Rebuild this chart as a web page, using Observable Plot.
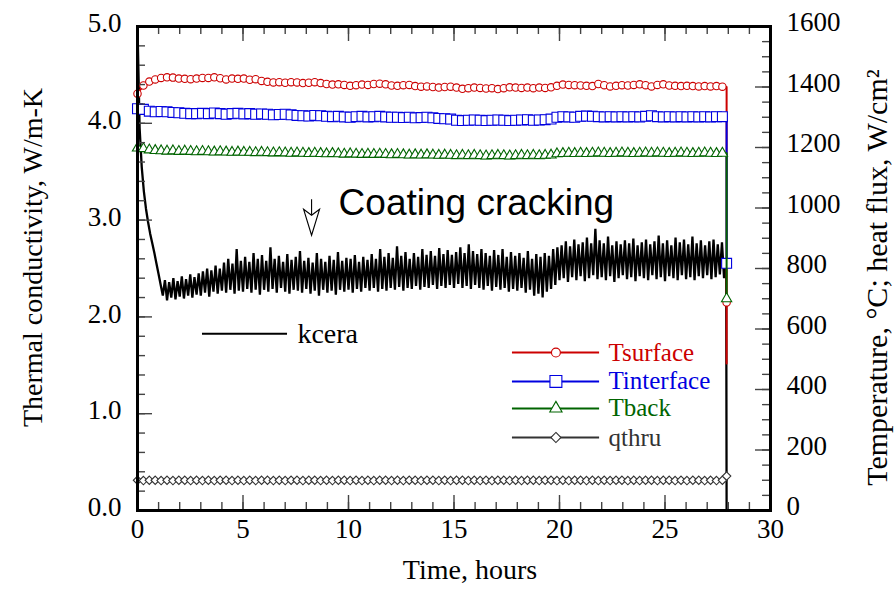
<!DOCTYPE html>
<html><head><meta charset="utf-8">
<script src="https://cdn.jsdelivr.net/npm/d3@7"></script>
<script src="https://cdn.jsdelivr.net/npm/@observablehq/plot@0.6"></script>
<style>html,body{margin:0;padding:0;background:#fff}#chart svg{display:block}</style>
</head><body><div id="chart"></div>
<script>
// ---------- DATA ----------
// kcera, W/m-K, one reading every 0.1 h from t = 0 to 27.9 h
const kceraStep = 0.1;
const kcera = [
 5.0,3.95,3.55,3.3,3.12,2.98,2.86,2.76,2.66,2.55,2.44,2.33,2.22,
 2.38,2.17,2.36,2.2,2.4,2.18,2.37,
 2.21,2.42,2.19,2.39,2.22,2.44,2.2,2.41,2.23,2.45,
 2.22,2.47,2.25,2.5,2.21,2.48,2.26,2.53,2.24,2.5,
 2.27,2.56,2.25,2.6,2.28,2.55,2.24,2.7,2.27,2.58,
 2.26,2.62,2.29,2.57,2.25,2.66,2.28,2.6,2.23,2.64,
 2.28,2.58,2.26,2.72,2.29,2.6,2.25,2.63,2.3,2.57,
 2.26,2.65,2.24,2.59,2.28,2.62,2.27,2.68,2.25,2.58,
 2.29,2.61,2.24,2.56,2.27,2.66,2.22,2.6,2.28,2.57,
 2.25,2.63,2.27,2.59,2.23,2.67,2.28,2.58,2.26,2.61,
 2.28,2.6,2.25,2.64,2.29,2.57,2.26,2.62,2.3,2.59,
 2.27,2.65,2.3,2.6,2.26,2.7,2.29,2.62,2.27,2.66,
 2.3,2.61,2.28,2.73,2.31,2.63,2.27,2.67,2.3,2.6,
 2.29,2.66,2.32,2.62,2.28,2.7,2.31,2.64,2.3,2.68,
 2.33,2.63,2.29,2.71,2.32,2.65,2.3,2.69,2.33,2.64,
 2.3,2.67,2.34,2.72,2.3,2.66,2.32,2.75,2.29,2.68,
 2.33,2.65,2.3,2.7,2.28,2.66,2.32,2.63,2.27,2.69,
 2.31,2.64,2.28,2.7,2.3,2.62,2.26,2.67,2.29,2.63,
 2.27,2.66,2.3,2.61,2.25,2.68,2.28,2.6,2.22,2.65,
 2.24,2.62,2.2,2.66,2.26,2.63,2.29,2.7,2.33,2.72,
 2.38,2.74,2.4,2.78,2.36,2.73,2.41,2.8,2.38,2.75,
 2.42,2.77,2.37,2.82,2.4,2.76,2.43,2.91,2.39,2.79,
 2.41,2.76,2.38,2.83,2.42,2.74,2.36,2.78,2.4,2.75,
 2.43,2.79,2.39,2.76,2.41,2.81,2.37,2.74,2.42,2.77,
 2.4,2.8,2.38,2.75,2.43,2.78,2.39,2.84,2.41,2.76,
 2.37,2.79,2.42,2.74,2.4,2.82,2.38,2.77,2.43,2.8,
 2.39,2.75,2.41,2.83,2.38,2.76,2.42,2.79,2.4,2.74,
 2.43,2.78,2.39,2.8,2.41,2.75,2.44,2.77,2.4,2.6
];
const kceraEnd = [0];

// temperatures (°C) and heat flux (W/cm²) at the plotted markers, every 0.28 h
const markerStep = 0.28;
const tsurface = [
 1378,1405,1418,1425,1430,1432,1431,1428,1427,1426,
 1428,1430,1430,1432,1429,1425,1428,1427,1428,1424,
 1426,1420,1417,1415,1416,1414,1416,1415,1413,1414,
 1416,1413,1410,1408,1409,1407,1404,1406,1408,1407,
 1410,1411,1409,1405,1404,1406,1407,1403,1401,1402,
 1400,1398,1400,1401,1398,1394,1396,1398,1397,1395,
 1396,1393,1396,1399,1398,1397,1398,1396,1398,1397,
 1399,1404,1408,1407,1406,1405,1404,1403,1410,1406,
 1402,1404,1406,1405,1407,1409,1406,1402,1407,1409,
 1405,1404,1403,1404,1403,1402,1403,1402,1403,1401
];
const tinterface = [
 1328,1326,1320,1318,1319,1318,1316,1315,1313,1312,
 1312,1313,1312,1314,1312,1310,1312,1313,1311,1312,
 1310,1311,1310,1308,1309,1310,1308,1306,1305,1304,
 1306,1305,1303,1302,1303,1301,1300,1302,1303,1301,
 1302,1303,1301,1300,1300,1299,1300,1298,1299,1300,
 1298,1296,1295,1294,1290,1289,1290,1291,1290,1289,
 1290,1291,1290,1289,1290,1291,1292,1290,1291,1292,
 1294,1300,1302,1301,1300,1303,1304,1303,1302,1301,
 1302,1301,1302,1301,1302,1301,1303,1305,1302,1301,
 1302,1301,1302,1301,1302,1301,1302,1301,1302,1302
];
const tback = [
 1198,1196,1192,1190,1189,1188,1189,1187,1188,1187,
 1186,1187,1186,1185,1186,1185,1184,1185,1184,1184,
 1183,1184,1183,1182,1183,1182,1181,1182,1181,1180,
 1181,1180,1179,1180,1179,1178,1179,1178,1177,1178,
 1177,1178,1177,1176,1177,1176,1175,1176,1175,1176,
 1175,1174,1175,1174,1173,1174,1173,1174,1173,1172,
 1173,1174,1173,1172,1173,1174,1173,1174,1173,1174,
 1175,1179,1180,1181,1180,1181,1180,1181,1182,1181,
 1180,1181,1182,1181,1180,1181,1182,1181,1182,1181,
 1180,1181,1182,1181,1180,1181,1182,1181,1180,1181
];
const qthru = [
 100,99,100,100,99,100,99,100,100,99,
 100,99,100,99,100,100,99,100,99,100,
 99,100,100,99,100,99,100,100,99,100,
 100,99,100,99,100,100,99,100,99,100,
 99,100,100,99,100,99,100,100,99,100,
 100,99,100,99,100,100,99,100,99,100,
 99,100,100,99,100,99,100,100,99,100,
 100,99,100,99,100,100,99,100,99,100,
 99,100,100,99,100,99,100,100,99,100,
 100,99,100,99,100,100,99,100,99,100
];
// end of test (t = 27.92 h): each trace drops; the second value carries the last marker
const tEnd = 27.92;
const tsurfaceEnd = [1400, 688, 486];
const tinterfaceEnd = [1302, 817];
const tbackEnd = [1181, 700];
const qthruEnd = [100, 114];
const endMarkerIndex = 1;

// axes
const xTicks = [0, 5, 10, 15, 20, 25, 30];
const leftTicks = [0, 1, 2, 3, 4, 5];
const leftTickLabels = ["0.0", "1.0", "2.0", "3.0", "4.0", "5.0"];
const rightTicks = [0, 200, 400, 600, 800, 1000, 1200, 1400, 1600];
const xLabel = "Time, hours";
const leftLabel = "Thermal conductivity, W/m-K";
const rightLabel = "Temperature, \u00B0C; heat flux, W/cm\u00B2";
const legendNames = ["Tsurface", "Tinterface", "Tback", "qthru"];
const kceraLegend = "kcera";
const note = "Coating cracking";
const noteArrowTime = 8.25;      // h
const noteArrowK = [3.21, 3.05]; // stem top, head notch (W/m-K)
const noteTextPos = [9.53, 3.18];

// ---------- LAYOUT ----------
const W = 894, H = 593, mL = 137, mR = 124, mT = 26, mB = 83;
const plotW = W - mL - mR, plotH = H - mT - mB;
const K = 5 / 1600; // right-axis (°C, W/cm²) to left-axis units
const serif = "'Liberation Serif','Times New Roman',Times,serif";
const sans = "'Liberation Sans',Arial,Helvetica,sans-serif";

const styles = {
  Tsurface:   {color: "#cc0000", symbol: "circle",   r: 3.7},
  Tinterface: {color: "#0000e0", symbol: "square",   r: 5.6},
  Tback:      {color: "#006400", symbol: "triangle", r: 3.8},
  qthru:      {color: "#333333", symbol: "diamond2", r: 3.8}
};
const seriesVals = {Tsurface: tsurface, Tinterface: tinterface, Tback: tback, qthru: qthru};
const seriesEnd = {Tsurface: tsurfaceEnd, Tinterface: tinterfaceEnd, Tback: tbackEnd, qthru: qthruEnd};

function lineRows(name) {
  const rows = seriesVals[name].map((v, i) => ({t: i * markerStep, v}));
  seriesEnd[name].forEach(v => rows.push({t: tEnd, v}));
  return rows;
}
function markRows(name) {
  const rows = seriesVals[name].map((v, i) => ({t: i * markerStep, v}));
  rows.push({t: tEnd, v: seriesEnd[name][endMarkerIndex]});
  return rows;
}
const kRows = kcera.map((k, i) => ({t: i * kceraStep, k}));
kceraEnd.forEach(k => kRows.push({t: tEnd, k}));

// legend layout (data coordinates of the inset legend)
const legendRowsK = [1.632, 1.333, 1.054, 0.754];
const legendLineT = [17.77, 21.9], legendMarkT = 19.83, legendTextT = 22.32;
const kLegendK = 1.825, kLegendLineT = [3.08, 7.11], kLegendTextT = 7.58;

const xMinor = d3.range(0, 31, 1);
const xMajor = xTicks;
const leftMinor = d3.range(0, 5.01, 0.2);
const rightMinor = d3.range(0, 1601, 50);

const dart = {
  draw(ctx) {
    ctx.moveTo(0, 0); ctx.lineTo(-8, -6); ctx.lineTo(0, 20); ctx.lineTo(8, -6); ctx.closePath();
  }
};

const marks = [];
// kcera trace
marks.push(Plot.line(kRows, {x: "t", y: "k", stroke: "black", strokeWidth: 2.3, strokeLinejoin: "miter"}));
// temperature / flux traces
for (const name of ["qthru", "Tsurface", "Tinterface", "Tback"]) {
  const s = styles[name];
  marks.push(Plot.line(lineRows(name), {x: "t", y: d => d.v * K, stroke: s.color, strokeWidth: 2}));
  marks.push(Plot.dot(markRows(name), {x: "t", y: d => d.v * K, symbol: s.symbol, r: s.r,
    stroke: s.color, fill: "white", strokeWidth: 1.1}));
}
// ticks (inward)
const tickStroke = "#444";
marks.push(
  Plot.ruleX(xMinor, {x: d => d, insetTop: plotH - 8, stroke: tickStroke, strokeWidth: 1.4}),
  Plot.ruleX(xMajor, {x: d => d, insetTop: plotH - 15, stroke: tickStroke, strokeWidth: 1.4}),
  Plot.ruleX(xMinor, {x: d => d, insetBottom: plotH - 8, stroke: tickStroke, strokeWidth: 1.4}),
  Plot.ruleX(xMajor, {x: d => d, insetBottom: plotH - 15, stroke: tickStroke, strokeWidth: 1.4}),
  Plot.ruleY(leftMinor, {y: d => d, insetRight: plotW - 8, stroke: tickStroke, strokeWidth: 1.4}),
  Plot.ruleY(leftTicks, {y: d => d, insetRight: plotW - 15, stroke: tickStroke, strokeWidth: 1.4}),
  Plot.ruleY(rightMinor, {y: d => d * K, insetLeft: plotW - 8, stroke: tickStroke, strokeWidth: 1.4}),
  Plot.ruleY(rightTicks, {y: d => d * K, insetLeft: plotW - 15, stroke: tickStroke, strokeWidth: 1.4}),
  Plot.frame({stroke: "black", strokeWidth: 3})
);
// tick labels
marks.push(
  Plot.text(xTicks, {x: d => d, frameAnchor: "bottom", dy: 27, text: d => String(d),
    fontSize: 27, fontFamily: serif, fill: "black"}),
  Plot.text(leftTicks, {y: d => d, frameAnchor: "left", dx: -16, dy: -3, textAnchor: "end",
    text: (d, i) => leftTickLabels[i], fontSize: 27, fontFamily: serif, fill: "black"}),
  Plot.text(rightTicks, {y: d => d * K, frameAnchor: "right", dx: 16, dy: -4, textAnchor: "start",
    text: d => String(d), fontSize: 27, fontFamily: serif, fill: "black"})
);
// axis titles
marks.push(
  Plot.text([xLabel], {frameAnchor: "bottom", dx: 16, dy: 68, text: d => d, textAnchor: "middle",
    fontSize: 28, fontFamily: serif, fill: "black"}),
  Plot.text([leftLabel], {frameAnchor: "left", dx: -104, dy: -11, rotate: -90, textAnchor: "middle",
    text: d => d, fontSize: 28, fontFamily: serif, fill: "black"}),
  Plot.text([rightLabel], {frameAnchor: "right", dx: 107, dy: 9, rotate: -90, textAnchor: "middle",
    text: d => d, fontSize: 30, fontFamily: serif, fill: "black"})
);
// annotation
marks.push(
  Plot.ruleX([noteArrowTime], {x: d => d, y1: noteArrowK[0], y2: noteArrowK[1], stroke: "black", strokeWidth: 1.1}),
  Plot.dot([noteArrowTime], {x: d => d, y: noteArrowK[1], symbol: dart, r: 5, fill: "white", stroke: "black", strokeWidth: 1.1}),
  Plot.text([note], {x: noteTextPos[0], y: noteTextPos[1], text: d => d, textAnchor: "start",
    fontSize: 37, fontFamily: sans, fill: "black"})
);
// legends
marks.push(
  Plot.ruleY([kLegendK], {y: d => d, x1: kLegendLineT[0], x2: kLegendLineT[1], stroke: "black", strokeWidth: 2}),
  Plot.text([kceraLegend], {x: kLegendTextT, y: kLegendK, text: d => d, textAnchor: "start",
    fontSize: 28, fontFamily: serif, fill: "black"})
);
legendNames.forEach((name, i) => {
  const s = styles[name];
  marks.push(
    Plot.ruleY([legendRowsK[i]], {y: d => d, x1: legendLineT[0], x2: legendLineT[1], stroke: s.color, strokeWidth: 2}),
    Plot.dot([legendRowsK[i]], {x: legendMarkT, y: d => d, symbol: s.symbol, r: s.r * 1.2,
      stroke: s.color, fill: "white", strokeWidth: 1.1}),
    Plot.text([name], {x: legendTextT, y: legendRowsK[i], text: d => d, textAnchor: "start",
      fontSize: 25, fontFamily: serif, fill: s.color})
  );
});

const chart = Plot.plot({
  width: W, height: H,
  marginLeft: mL, marginRight: mR, marginTop: mT, marginBottom: mB,
  x: {domain: [0, 30], axis: null},
  y: {domain: [0, 5], axis: null},
  style: {background: "white", overflow: "visible"},
  marks
});
document.getElementById("chart").appendChild(chart);
</script>
</body></html>
